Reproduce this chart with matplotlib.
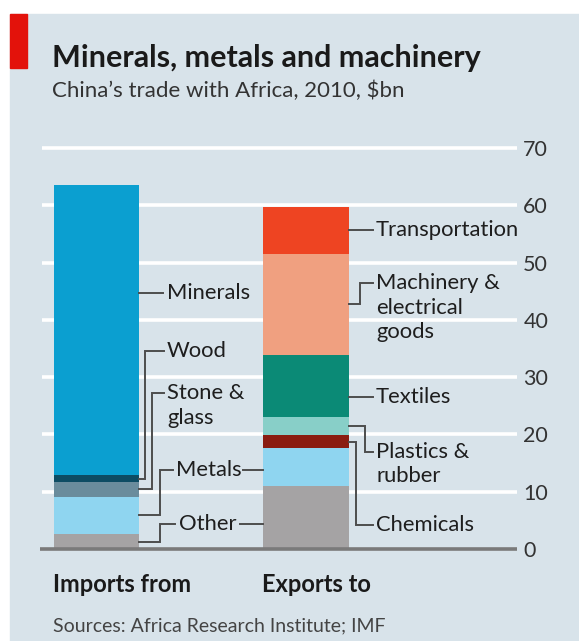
import matplotlib
matplotlib.use("Agg")
import matplotlib.pyplot as plt
from matplotlib.patches import Rectangle
import numpy as np

# ---------------- data ----------------
imports_labels = ["Other", "Metals", "Stone & glass", "Wood", "Minerals"]
imports_values = [2.6, 6.5, 2.6, 1.2, 50.6]
imports_colors = ["#a5a3a4", "#8fd5f0", "#6a8c9c", "#0d4c63", "#0b9fd0"]

exports_labels = ["Other", "Metals", "Chemicals", "Plastics & rubber",
                  "Textiles", "Machinery & electrical goods", "Transportation"]
exports_values = [11.0, 6.6, 2.3, 3.1, 10.9, 17.6, 8.2]
exports_colors = ["#a5a3a4", "#8fd5f0", "#8a1c10", "#88cfc8",
                  "#0b8a76", "#f0a080", "#ee4422"]

bar_names = ["Imports from", "Exports to"]
yticks = [0, 10, 20, 30, 40, 50, 60, 70]

title = "Minerals, metals and machinery"
subtitle = "China\u2019s trade with Africa, 2010, $bn"
source = "Sources: Africa Research Institute; IMF"

# ---------------- style ----------------
W, H = 579, 641
BG = "#d8e3ea"
FONT = ["Lato", "DejaVu Sans"]
plt.rcParams["font.family"] = FONT
TXT = "#1e1e1e"
LEAD = "#4d4d4d"

fig = plt.figure(figsize=(W / 100, H / 100), dpi=100)
fig.patch.set_facecolor("white")
fig.patches.append(Rectangle((10 / W, 0), 1 - 10 / W, 1 - 14 / H,
                             transform=fig.transFigure, color=BG, zorder=-10))
fig.patches.append(Rectangle((10 / W, 1 - 68 / H), 17 / W, 54 / H,
                             transform=fig.transFigure, color="#e3120b", zorder=-5))

# axes: x from px 40 to 517, y 0 at px 549, 70 at px 148
ax_l, ax_r, ax_t, ax_b = 40, 517, 148, 549
ax = fig.add_axes([ax_l / W, 1 - ax_b / H, (ax_r - ax_l) / W, (ax_b - ax_t) / H])
ax.set_facecolor("none")
for s in ax.spines.values():
    s.set_visible(False)

c0, c1 = 96.5, 306.0  # px centres of the bars
ppu = c1 - c0
x0 = (ax_l - c0) / ppu
x1 = (ax_r - c0) / ppu
ax.set_xlim(x0, x1)
ax.set_ylim(0, 70)
ypu = (ax_b - ax_t) / 70.0


def px(x):
    return (x - c0) / ppu


def py(y):
    return (ax_b - y) / ypu


# grid
for t in yticks[1:]:
    ax.plot([px(42), x1], [t, t], color="white", lw=2.6, zorder=0,
            solid_capstyle="butt", clip_on=False)
ax.plot([x0, x1], [0, 0], color="#7a7a7a", lw=2.6, zorder=5,
        solid_capstyle="butt", clip_on=False)

ax.yaxis.tick_right()
ax.set_yticks(yticks)
ax.set_yticklabels([str(t) for t in yticks])
ax.tick_params(axis="y", length=0, pad=4.5, labelsize=15.5, labelcolor="#333333")
ax.set_xticks([])
for lab in ax.get_yticklabels():
    lab.set_family(FONT)

bw = 85.5 / ppu
bottom = 0
for v, c in zip(imports_values, imports_colors):
    ax.bar(0, v, bottom=bottom, width=bw, color=c, zorder=2, linewidth=0)
    bottom += v
bottom = 0
for v, c in zip(exports_values, exports_colors):
    ax.bar(1, v, bottom=bottom, width=bw, color=c, zorder=2, linewidth=0)
    bottom += v

imp_cum = np.cumsum([0] + imports_values)
exp_cum = np.cumsum([0] + exports_values)
imp_mid = (imp_cum[:-1] + imp_cum[1:]) / 2
exp_mid = (exp_cum[:-1] + exp_cum[1:]) / 2

LS = 15.8
LINE_GAP = 24.5 / ypu


def lead(xs_px, ys):
    ax.plot([px(x) for x in xs_px], ys, color=LEAD, lw=1.4, zorder=3,
            clip_on=False, solid_joinstyle="miter")


def label(x_px, y_first, text):
    for i, line in enumerate(text.split("\n")):
        ax.text(px(x_px), y_first - i * LINE_GAP, line, fontsize=LS, color=TXT,
                va="center", ha="left", family=FONT)


Le = 139  # left bar right edge px
Re = 349  # right bar right edge px
Rl = 263  # right bar left edge px

# left bar labels
y_min = py(293)
lead([Le, 163], [y_min, y_min])
label(167, y_min, "Minerals")

y_wood = py(351)
lead([Le, 145, 145, 164], [imp_mid[3], imp_mid[3], y_wood, y_wood])
label(167, y_wood, "Wood")

y_st = py(393)
lead([Le, 152, 152, 164], [imp_mid[2], imp_mid[2], y_st, y_st])
label(167, y_st, "Stone &\nglass")

y_met = py(470)
lead([Le, 160, 160, 173], [imp_mid[1], imp_mid[1], y_met, y_met])
label(176, y_met, "Metals")
lead([243, Rl], [y_met, y_met])

y_oth = py(524)
lead([Le, 160, 160, 175], [imp_mid[0], imp_mid[0], y_oth, y_oth])
label(179, y_oth, "Other")
lead([240, Rl], [y_oth, y_oth])

# right bar labels
lead([Re, 373], [exp_mid[6], exp_mid[6]])
label(376, exp_mid[6], "Transportation")

y_mach = py(283)
lead([Re, 360, 360, 373], [exp_mid[5], exp_mid[5], y_mach, y_mach])
label(376, y_mach, "Machinery &\nelectrical\ngoods")

y_tex = py(397)
lead([Re, 373], [y_tex, y_tex])
label(376, y_tex, "Textiles")

y_pl = py(452)
lead([Re, 365, 365, 373], [exp_mid[3], exp_mid[3], y_pl, y_pl])
label(376, y_pl, "Plastics &\nrubber")

y_ch = py(525)
lead([Re, 356, 356, 373], [exp_mid[2], exp_mid[2], y_ch, y_ch])
label(376, y_ch, "Chemicals")

# titles
fig.text(52 / W, 1 - 67 / H, title, fontsize=22, weight="bold", color="#1a1a1a",
         va="baseline", ha="left", family=FONT)
fig.text(52 / W, 1 - 97 / H, subtitle, fontsize=16, color="#333333",
         va="baseline", ha="left", family=FONT)
fig.text(53 / W, 1 - 592 / H, bar_names[0], fontsize=17, weight="bold",
         color="#1a1a1a", va="baseline", ha="left", family=FONT)
fig.text(262 / W, 1 - 592 / H, bar_names[1], fontsize=17, weight="bold",
         color="#1a1a1a", va="baseline", ha="left", family=FONT)
fig.text(53 / W, 1 - 631 / H, source, fontsize=14, color="#444444",
         va="baseline", ha="left", family=FONT)

fig.savefig("out.png", dpi=100, facecolor=fig.get_facecolor())
